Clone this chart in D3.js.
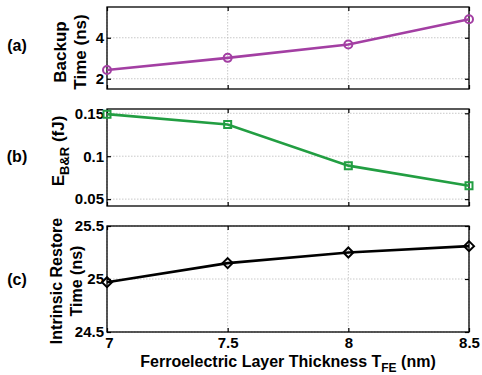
<!DOCTYPE html>
<html><head><meta charset="utf-8">
<script src="https://cdn.jsdelivr.net/npm/d3@7"></script>
<style>
body{margin:0;background:#fff;}
text{font-family:"Liberation Sans",Arial,sans-serif;font-weight:bold;fill:#000;}
</style></head>
<body><svg id="c" width="482" height="375"></svg>
<script>
const thickness = [7, 7.5, 8, 8.5];
const xTicks = [7, 7.5, 8, 8.5];
const backupTime = [2.43, 3.02, 3.67, 4.9];
const backupTicks = [2, 4];
const energyBR = [0.149, 0.137, 0.089, 0.0655];
const energyTicks = [0.05, 0.1, 0.15];
const restoreTime = [24.97, 25.15, 25.25, 25.31];
const restoreTicks = [24.5, 25, 25.5];

const svg = d3.select("#c");
const x = d3.scaleLinear().domain([7, 8.5]).range([107, 469]);

const panels = [
  {data: backupTime, ticks: backupTicks, domain: [1.5, 5.5], top: 7, bottom: 89, color: "#a33fa3", marker: "circle",
   label: "(a)", labelY: 47, ylabel: ["Backup", "Time (ns)"], ylx: [60, 80], lyc: 52, yfs: 17},
  {data: energyBR, ticks: energyTicks, domain: [0.042, 0.155], top: 109, bottom: 206, color: "#229e42", marker: "square",
   label: "(b)", labelY: 158, ylabel: null, lyc: 151},
  {data: restoreTime, ticks: restoreTicks, domain: [24.5, 25.5], top: 226, bottom: 332, color: "#000", marker: "diamond",
   label: "(c)", labelY: 281, ylabel: ["Intrinsic Restore", "Time (ns)"], ylx: [56, 76], lyc: 281, yfs: 16}
];

panels.forEach((p, i) => {
  const y = d3.scaleLinear().domain(p.domain).range([p.bottom, p.top]);
  const g = svg.append("g");
  // grid
  g.selectAll(".gx").data(xTicks).join("line")
    .attr("x1", d => x(d)).attr("x2", d => x(d)).attr("y1", p.top).attr("y2", p.bottom)
    .attr("stroke", "#bbb").attr("stroke-width", 0.8).attr("stroke-dasharray", "1.5,1.5");
  g.selectAll(".gy").data(p.ticks).join("line")
    .attr("x1", 107).attr("x2", 469).attr("y1", d => y(d)).attr("y2", d => y(d))
    .attr("stroke", "#bbb").attr("stroke-width", 0.8).attr("stroke-dasharray", "1.5,1.5");
  // axes with inward ticks
  const yl = g.append("g").attr("transform", "translate(107,0)")
    .call(d3.axisLeft(y).tickValues(p.ticks).tickFormat(d3.format("")).tickSizeInner(-4).tickSizeOuter(0).tickPadding(3));
  const yr = g.append("g").attr("transform", "translate(469,0)")
    .call(d3.axisRight(y).tickValues(p.ticks).tickFormat("").tickSizeInner(-4).tickSizeOuter(0));
  const xb = g.append("g").attr("transform", `translate(0,${p.bottom})`)
    .call(d3.axisBottom(x).tickValues(xTicks).tickFormat(i === 2 ? d3.format("") : "").tickSizeInner(-4).tickSizeOuter(0).tickPadding(5));
  const xt = g.append("g").attr("transform", `translate(0,${p.top})`)
    .call(d3.axisTop(x).tickValues(xTicks).tickFormat("").tickSizeInner(-4).tickSizeOuter(0));
  [yl, yr, xb, xt].forEach(a => {
    a.select(".domain").remove();
    a.selectAll("line").attr("stroke", "#000").attr("stroke-width", 1.2);
    a.selectAll("text").style("font-size", "15px").style("font-family", "'Liberation Sans',Arial,sans-serif").style("font-weight", "bold").attr("fill", "#000");
  });
  if (i === 2) {
    xb.selectAll("text").filter(d => d === 7).attr("dx", "2");
  }
  // frame
  g.append("rect").attr("x", 107).attr("y", p.top).attr("width", 362).attr("height", p.bottom - p.top)
    .attr("fill", "none").attr("stroke", "#000").attr("stroke-width", 1.3);
  // line
  const pts = thickness.map((t, k) => [t, p.data[k]]);
  g.append("path").datum(pts)
    .attr("d", d3.line().x(d => x(d[0])).y(d => y(d[1])))
    .attr("fill", "none").attr("stroke", p.color).attr("stroke-width", 2.6);
  // markers
  const mk = g.selectAll(".mk").data(pts).join("path")
    .attr("transform", d => `translate(${x(d[0])},${y(d[1])})`)
    .attr("fill", "none").attr("stroke", p.color).attr("stroke-width", 2);
  if (p.marker === "circle") mk.attr("d", "M-4,0a4,4 0 1,0 8,0a4,4 0 1,0 -8,0");
  if (p.marker === "square") mk.attr("d", "M-3.5,-3.5h7v7h-7z");
  if (p.marker === "diamond") mk.attr("d", "M0,-5L5,0L0,5L-5,0z");
  // panel label
  svg.append("text").attr("x", 17).attr("y", p.labelY).attr("text-anchor", "middle")
    .attr("dominant-baseline", "middle").style("font-size", "16px").text(p.label);
  // y label
  if (p.ylabel) {
    p.ylabel.forEach((s, k) => {
      svg.append("text").attr("transform", `translate(${p.ylx[k] + 6},${p.lyc}) rotate(-90)`)
        .attr("text-anchor", "middle").style("font-size", p.yfs + "px").text(s);
    });
  } else {
    const t = svg.append("text").attr("transform", `translate(64,${p.lyc}) rotate(-90)`)
      .attr("text-anchor", "middle").style("font-size", "17px");
    t.append("tspan").text("E");
    t.append("tspan").attr("dy", 5).style("font-size", "13px").text("B&R");
    t.append("tspan").attr("dy", -5).text(" (fJ)");
  }
});

const xl = svg.append("text").attr("x", 288).attr("y", 367).attr("text-anchor", "middle").style("font-size", "16px");
xl.append("tspan").text("Ferroelectric Layer Thickness T");
xl.append("tspan").attr("dy", 5).style("font-size", "12px").text("FE");
xl.append("tspan").attr("dy", -5).text(" (nm)");
</script></body></html>
